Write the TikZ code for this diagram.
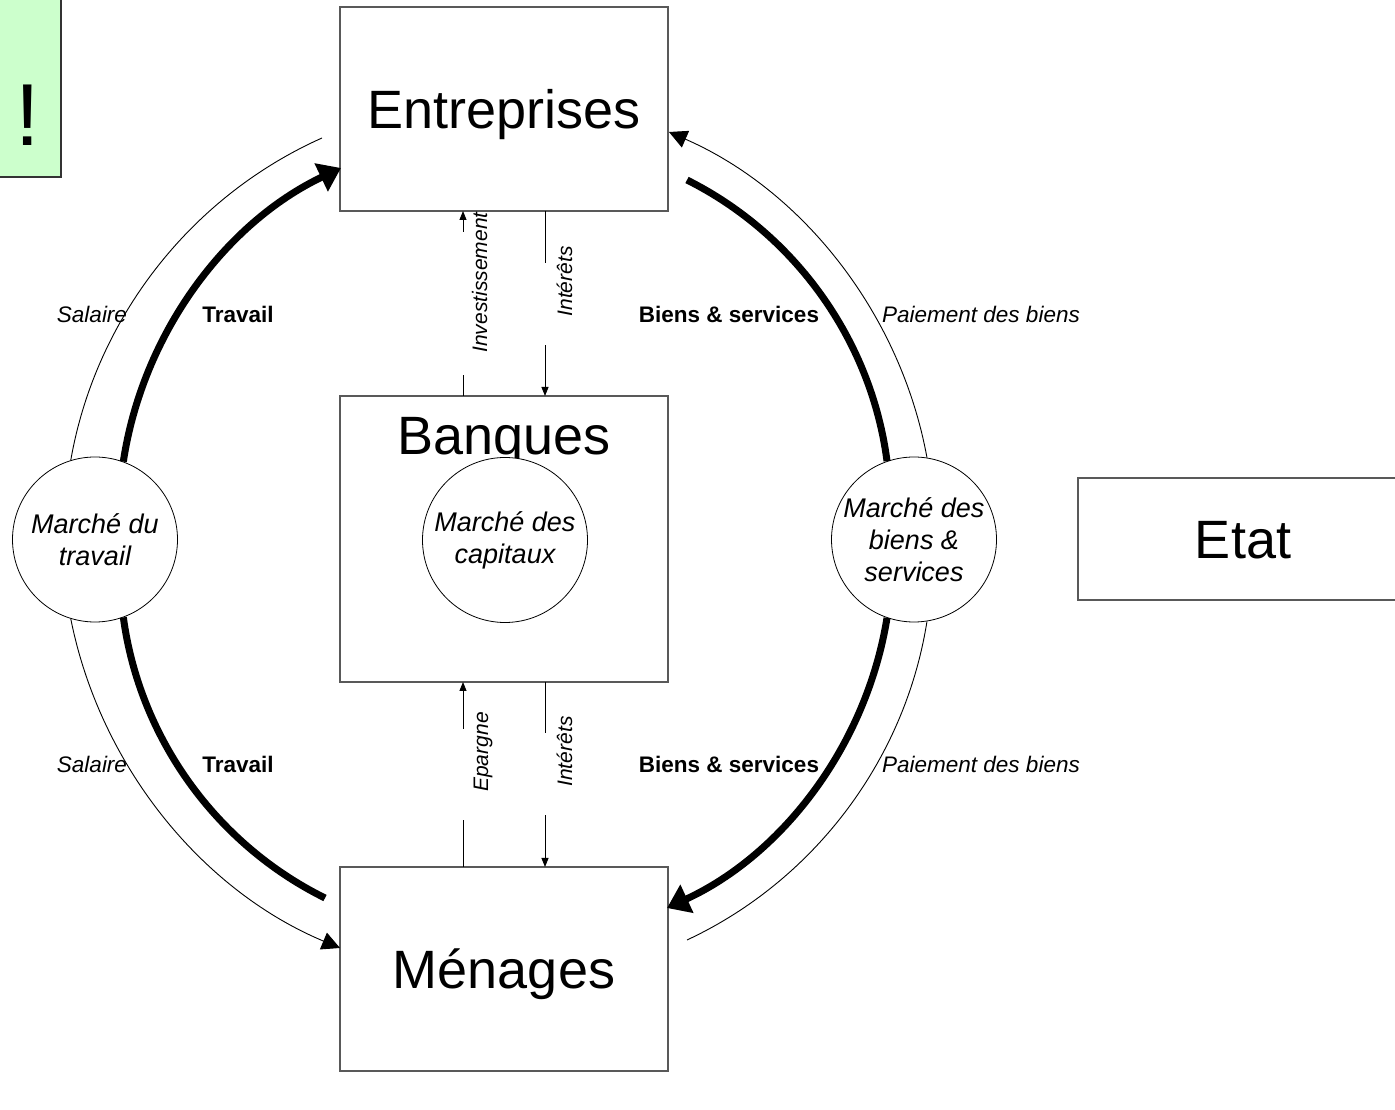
\documentclass[tikz,border=0pt]{standalone}
\usepackage{fontspec}
\setmainfont{Liberation Sans}
\usetikzlibrary{arrows.meta}
\definecolor{lightgreen}{RGB}{204,255,204}
\begin{document}
\begin{tikzpicture}[x=1pt,y=1pt,
  box/.style={draw=black!65, line width=1.2pt, fill=white, inner sep=0pt},
  bigtxt/.style={font=\fontsize{54}{60}\selectfont, text height=38.7pt, text depth=0pt},
  mkt/.style={circle, draw=black, line width=0.8pt, fill=white, minimum size=165pt, inner sep=0pt, align=center, font=\itshape\fontsize{27}{32}\selectfont},
  thickarc/.style={line width=7pt, looseness=0.9},
  thinarc/.style={line width=0.9pt, looseness=0.9},
  bigtip/.style={-{Triangle[length=22pt,width=30pt]}},
  midtip/.style={-{Triangle[length=18pt,width=18pt]}},
  smalltip/.style={-{Triangle[length=9pt,width=7pt]}},
  ilbl/.style={font=\itshape\fontsize{22.5}{27}\selectfont, anchor=base},
  blbl/.style={font=\bfseries\fontsize{22.5}{27}\selectfont, anchor=base},
  vlbl/.style={font=\itshape\fontsize{21}{25}\selectfont, anchor=base, rotate=90, inner sep=0pt},
]
\fill[white] (0,0) rectangle (1395,1109);
\useasboundingbox (0,0) rectangle (1395,1109);

% boxes
\node[box, bigtxt, minimum width=328pt, minimum height=204pt] (ent) at (504,1000) {Entreprises};
\node[box, minimum width=328pt, minimum height=286pt] (ban) at (504,570) {};
\node[font=\fontsize{54}{60}\selectfont, anchor=base] (bant) at (504,654) {Banques};
\node[box, bigtxt, minimum width=328pt, minimum height=204pt] (men) at (504,140) {Ménages};
\node[box, bigtxt, minimum width=330pt, minimum height=122pt] (etat) at (1243,570) {Etat};
\node[draw=black!80, line width=1.5pt, fill=lightgreen, minimum width=81pt, minimum height=198pt, inner sep=0pt] (warn) at (20.5,1031) {};
\node[font=\fontsize{88}{90}\selectfont, anchor=base] (excl) at (28,963) {!};

% markets
\node[mkt] (trav) at (95,569.5) {Marché du\\travail};
\node[mkt] (cap) at (505,569) {Marché des\\capitaux};
\node[mkt] (biens) at (914,569.5) {Marché des\\biens \&\\services};

% arc end points on the boxes
\coordinate (e1) at (341,941);
\coordinate (e2) at (322,971);
\coordinate (e3) at (669,977);
\coordinate (e4) at (687,929);
\coordinate (m1) at (325,211);
\coordinate (m2) at (340,161);
\coordinate (m3) at (667,201);
\coordinate (m4) at (687,169);

\draw[thickarc, bigtip] (trav.70) to[bend left=28] (e1);
\draw[thinarc] (e2) to[bend right=28] (trav.107);
\draw[thickarc] (m1) to[bend left=28] (trav.-70);
\draw[thinarc, midtip] (trav.-107) to[bend right=28] (m2);
\draw[thinarc, midtip] (biens.81) to[bend right=28] (e3);
\draw[thickarc] (e4) to[bend left=28] (biens.109);
\draw[thickarc, bigtip] (biens.-109) to[bend left=28] (m3);
\draw[thinarc] (m4) to[bend right=28] (biens.-81);

% vertical flows
\coordinate (invA) at (463,713); \coordinate (invB) at (463,898);
\coordinate (intA) at (545,898); \coordinate (intB) at (545,713);
\coordinate (epA) at (463,242);  \coordinate (epB) at (463,427);
\coordinate (intC) at (545,427); \coordinate (intD) at (545,242);
\draw[thinarc, smalltip] (invA) -- (invB);
\draw[thinarc, smalltip] (intA) -- (intB);
\draw[thinarc, smalltip] (epA) -- (epB);
\draw[thinarc, smalltip] (intC) -- (intD);
\fill[white] (456,734) rectangle (470,877);
\fill[white] (538,764) rectangle (552,846);
\fill[white] (456,289) rectangle (470,380);
\fill[white] (538,294) rectangle (552,376);
\node[vlbl] (inv) at (487,826.5) {Investissement};
\node[vlbl] (int1) at (572,827.5) {Intérêts};
\node[vlbl] (epa) at (488,357) {Epargne};
\node[vlbl] (int2) at (572,357.5) {Intérêts};

% horizontal labels
\node[ilbl] (sal1) at (92,786) {Salaire};
\node[blbl] (tra1) at (238,786) {Travail};
\node[blbl] (bs1) at (729,786) {Biens \& services};
\node[ilbl] (pay1) at (981,786) {Paiement des biens};
\node[ilbl] (sal2) at (92,336) {Salaire};
\node[blbl] (tra2) at (238,336) {Travail};
\node[blbl] (bs2) at (729,336) {Biens \& services};
\node[ilbl] (pay2) at (981,336) {Paiement des biens};
\end{tikzpicture}
\end{document}
